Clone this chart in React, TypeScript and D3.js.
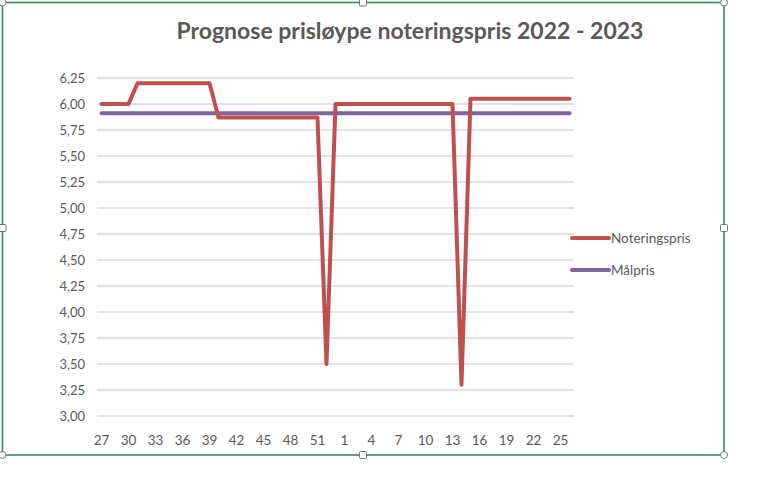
import React, { useEffect, useRef } from 'react';
import * as d3 from 'd3';

// uke 27 (2022) -> uke 26 (2023)
const weeks = [
  27, 28, 29, 30, 31, 32, 33, 34, 35, 36, 37, 38, 39, 40, 41, 42, 43, 44, 45, 46, 47, 48, 49, 50, 51, 52, 53,
  1, 2, 3, 4, 5, 6, 7, 8, 9, 10, 11, 12, 13, 14, 15, 16, 17, 18, 19, 20, 21, 22, 23, 24, 25, 26,
];

const noteringspris = [
  6.0, 6.0, 6.0, 6.0, 6.2, 6.2, 6.2, 6.2, 6.2, 6.2, 6.2, 6.2, 6.2, 5.87, 5.87, 5.87, 5.87, 5.87, 5.87, 5.87,
  5.87, 5.87, 5.87, 5.87, 5.87, 3.5, 6.0, 6.0, 6.0, 6.0, 6.0, 6.0, 6.0, 6.0, 6.0, 6.0, 6.0, 6.0, 6.0, 6.0,
  3.3, 6.05, 6.05, 6.05, 6.05, 6.05, 6.05, 6.05, 6.05, 6.05, 6.05, 6.05, 6.05,
];

const maalpris = [
  5.91, 5.91, 5.91, 5.91, 5.91, 5.91, 5.91, 5.91, 5.91, 5.91, 5.91, 5.91, 5.91, 5.91, 5.91, 5.91, 5.91, 5.91,
  5.91, 5.91, 5.91, 5.91, 5.91, 5.91, 5.91, 5.91, 5.91, 5.91, 5.91, 5.91, 5.91, 5.91, 5.91, 5.91, 5.91, 5.91,
  5.91, 5.91, 5.91, 5.91, 5.91, 5.91, 5.91, 5.91, 5.91, 5.91, 5.91, 5.91, 5.91, 5.91, 5.91, 5.91, 5.91,
];

const yTicks = [3.0, 3.25, 3.5, 3.75, 4.0, 4.25, 4.5, 4.75, 5.0, 5.25, 5.5, 5.75, 6.0, 6.25];

const series = [
  { name: 'Noteringspris', values: noteringspris, color: '#C0504D' },
  { name: 'Målpris', values: maalpris, color: '#8064A2' },
];

const W = 768;
const H = 487;
const FONT = 'Lato, "Open Sans", sans-serif';

const App: React.FC = () => {
  const svgRef = useRef<SVGSVGElement>(null);

  useEffect(() => {
    document.body.style.margin = '0';
    const svg = d3.select(svgRef.current);
    svg.selectAll('*').remove();

    svg.append('rect').attr('width', W).attr('height', H).attr('fill', '#fff');

    const x = d3.scaleBand<number>()
      .domain(d3.range(weeks.length))
      .range([97, 574]);
    const y = d3.scaleLinear().domain([3, 6.25]).range([416, 78]);
    const cx = (i: number) => (x(i) ?? 0) + x.bandwidth() / 2;

    // gridlines
    svg.append('g')
      .selectAll('line')
      .data(yTicks)
      .enter()
      .append('line')
      .attr('x1', 97)
      .attr('x2', 574)
      .attr('y1', d => y(d))
      .attr('y2', d => y(d))
      .attr('stroke', '#d9d9d9')
      .attr('stroke-width', 1.3);

    // y labels
    svg.append('g')
      .selectAll('text')
      .data(yTicks)
      .enter()
      .append('text')
      .attr('x', 85)
      .attr('y', d => y(d))
      .attr('dy', '0.35em')
      .attr('text-anchor', 'end')
      .style('font-family', FONT)
      .style('font-size', '13px')
      .style('fill', '#595959')
      .text(d => d3.format('.2f')(d).replace('.', ','));

    // x labels, every third week
    svg.append('g')
      .selectAll('text')
      .data(weeks.map((w, i) => ({ w, i })).filter(d => d.i % 3 === 0))
      .enter()
      .append('text')
      .attr('x', d => cx(d.i))
      .attr('y', 440)
      .attr('dy', '0.35em')
      .attr('text-anchor', 'middle')
      .style('font-family', FONT)
      .style('font-size', '13.5px')
      .style('fill', '#595959')
      .text(d => d.w);

    // lines
    const line = d3.line<number>()
      .x((_, i) => cx(i))
      .y(d => y(d));

    svg.append('g')
      .selectAll('path')
      .data(series.slice().reverse())
      .enter()
      .append('path')
      .attr('d', d => line(d.values))
      .attr('fill', 'none')
      .attr('stroke', d => d.color)
      .attr('stroke-width', 4)
      .attr('stroke-linejoin', 'round')
      .attr('stroke-linecap', 'round');

    // title
    svg.append('text')
      .attr('x', 410)
      .attr('y', 31)
      .attr('dy', '0.35em')
      .attr('text-anchor', 'middle')
      .style('font-family', FONT)
      .style('font-size', '23px')
      .style('font-weight', 'bold')
      .style('fill', '#595959')
      .text('Prognose prisløype noteringspris 2022 - 2023');

    // legend
    const legend = svg.append('g')
      .selectAll('g')
      .data(series)
      .enter()
      .append('g')
      .attr('transform', (_, i) => `translate(572, ${238 + i * 32})`);
    legend.append('line')
      .attr('x1', 0)
      .attr('x2', 37)
      .attr('stroke', d => d.color)
      .attr('stroke-width', 4)
      .attr('stroke-linecap', 'round');
    legend.append('text')
      .attr('x', 39)
      .attr('dy', '0.35em')
      .style('font-family', FONT)
      .style('font-size', '13.5px')
      .style('fill', '#595959')
      .text(d => d.name);

    // selection frame (excel)
    const frame = svg.append('g');
    frame.append('rect')
      .attr('x', 2.5)
      .attr('y', 2.5)
      .attr('width', 721.5)
      .attr('height', 452.5)
      .attr('fill', 'none')
      .attr('stroke', '#3a8d5c')
      .attr('stroke-width', 1.6);
    const corners = [[2.5, 2.5], [724, 2.5], [2.5, 455], [724, 455]];
    frame.selectAll('circle')
      .data(corners)
      .enter()
      .append('circle')
      .attr('cx', d => d[0])
      .attr('cy', d => d[1])
      .attr('r', 3.5)
      .attr('fill', '#fff')
      .attr('stroke', '#777')
      .attr('stroke-width', 1);
    const mids = [[363, 2.5], [363, 455], [2.5, 228], [724, 228]];
    frame.selectAll('rect.h')
      .data(mids)
      .enter()
      .append('rect')
      .attr('class', 'h')
      .attr('x', d => d[0] - 3.5)
      .attr('y', d => d[1] - 3.5)
      .attr('width', 7)
      .attr('height', 7)
      .attr('rx', 1)
      .attr('fill', '#fff')
      .attr('stroke', '#777')
      .attr('stroke-width', 1);
  }, []);

  return (
    <div style={{ position: 'absolute', left: 0, top: 0 }}>
      <svg ref={svgRef} width={W} height={H} style={{ display: 'block' }} />
    </div>
  );
};

export default App;
